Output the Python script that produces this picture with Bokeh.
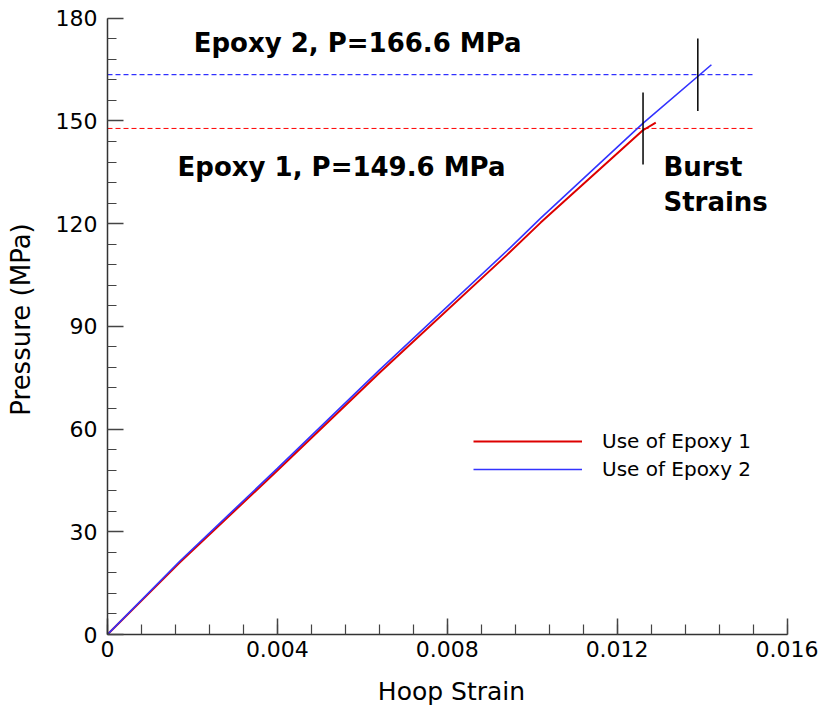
from bokeh.plotting import figure
from bokeh.models import Range1d, FixedTicker, Legend, LegendItem, ColumnDataSource
from bokeh.core.properties import value
from bokeh.embed import file_html
from bokeh.resources import INLINE

# ---- data ----
strain_epoxy1 = [0.0, 0.0017, 0.0040, 0.0064, 0.0094, 0.0102, 0.0126, 0.01291]
pressure_epoxy1 = [0.0, 21.0, 47.9, 76.4, 110.8, 120.3, 147.2, 149.5]
strain_epoxy2 = [0.0, 0.0017, 0.0040, 0.0064, 0.0094, 0.0102, 0.0126, 0.01422]
pressure_epoxy2 = [0.0, 21.4, 48.5, 77.2, 112.0, 121.6, 149.2, 166.4]

burst_strain = [0.01261, 0.01390]
burst_pressure = [147.8, 163.5]
burst_half_span = [10.5, 10.6]

annot_text = ["Epoxy 2, P=166.6 MPa", "Epoxy 1, P=149.6 MPa", "Burst", "Strains"]
annot_x = [0.00203, 0.00165, 0.01309, 0.01309]
annot_y = [172.9, 136.4, 136.4, 126.2]

x_ticks = [0.0, 0.004, 0.008, 0.012, 0.016]
x_tick_labels = ["0", "0.004", "0.008", "0.012", "0.016"]
x_minor = [i * 0.0008 for i in range(21)]
y_ticks = [0, 30, 60, 90, 120, 150, 180]
y_tick_labels = ["0", "30", "60", "90", "120", "150", "180"]
y_minor = [i * 6 for i in range(31)]

series_names = ["Use of Epoxy 1", "Use of Epoxy 2"]
red = "#dd0000"
blue = "#3333ff"

FONT = "DejaVu Sans"

p = figure(width=820, height=709, output_backend="svg", toolbar_location=None,
           x_range=Range1d(0, 0.0162), y_range=Range1d(0, 184),
           min_border_left=107, min_border_right=25, min_border_top=4, min_border_bottom=75)
p.outline_line_color = None
p.xgrid.visible = False
p.ygrid.visible = False

# dashed burst pressure lines
p.segment(x0=[0.0] * 2, x1=[0.01521] * 2, y0=burst_pressure, y1=burst_pressure,
          line_color=["#ff0000", "#0000ff"], line_width=1, line_dash="5 3")

r1 = p.line(strain_epoxy1, pressure_epoxy1, line_color=red, line_width=2)
r2 = p.line(strain_epoxy2, pressure_epoxy2, line_color=blue, line_width=1.6)

# burst markers
p.segment(x0=burst_strain, x1=burst_strain,
          y0=[b - h for b, h in zip(burst_pressure, burst_half_span)],
          y1=[b + h for b, h in zip(burst_pressure, burst_half_span)],
          line_color="black", line_width=1.5)

src = ColumnDataSource(dict(x=annot_x, y=annot_y, t=annot_text))
p.text(x="x", y="y", text="t", source=src, text_font=value(FONT), text_font_style="bold",
       text_font_size="26px", text_baseline="alphabetic", text_align="left", text_color="black")

# axes
for ax in (p.xaxis[0], p.yaxis[0]):
    ax.axis_line_color = "#333333"
    ax.axis_line_width = 1.5
    ax.major_tick_line_color = "#444444"
    ax.minor_tick_line_color = "#444444"
    ax.major_tick_line_width = 1.5
    ax.minor_tick_line_width = 1.2
    ax.major_tick_in = 16
    ax.major_tick_out = 0
    ax.minor_tick_out = 0
    ax.major_label_text_font = FONT
    ax.major_label_text_font_size = "22px"
    ax.major_label_text_color = "black"
    ax.axis_label_text_font = FONT
    ax.axis_label_text_font_size = "25px"
    ax.axis_label_text_font_style = "normal"
    ax.axis_label_text_color = "black"

p.xaxis.ticker = FixedTicker(ticks=x_ticks, minor_ticks=x_minor)
p.yaxis.ticker = FixedTicker(ticks=y_ticks, minor_ticks=y_minor)
p.xaxis.major_label_overrides = {t: l for t, l in zip(x_ticks, x_tick_labels)}
p.yaxis.major_label_overrides = {t: l for t, l in zip(y_ticks, y_tick_labels)}
p.xaxis.minor_tick_in = 10
p.yaxis.minor_tick_in = 9
p.xaxis.bounds = (0, 0.016)
p.yaxis.bounds = (0, 180)
p.xaxis.major_label_standoff = 6
p.yaxis.major_label_standoff = 10
p.xaxis.axis_label = "Hoop Strain"
p.yaxis.axis_label = "Pressure (MPa)"
p.yaxis.axis_label_text_font_size = "26px"
p.xaxis.axis_label_standoff = 17
p.yaxis.axis_label_standoff = 17

legend = Legend(items=[LegendItem(label=series_names[0], renderers=[r1]),
                       LegendItem(label=series_names[1], renderers=[r2])],
                location=(366, 151), padding=0, margin=0, spacing=0,
                glyph_width=109, glyph_height=28, label_height=28, label_standoff=20,
                label_text_font=FONT, label_text_font_size="20px", label_text_color="black",
                border_line_alpha=0, background_fill_alpha=0)
p.add_layout(legend)

open("out.html", "w").write(file_html(p, INLINE))
